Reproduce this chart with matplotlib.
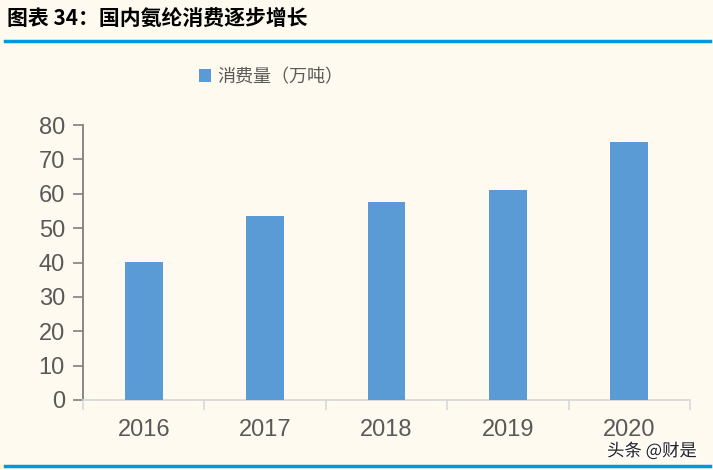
import matplotlib.pyplot as plt
import matplotlib.patheffects as pe
import numpy as np

plt.rcParams['font.family'] = ['Liberation Sans', 'Noto Sans CJK SC', 'DejaVu Sans']

years = ["2016", "2017", "2018", "2019", "2020"]
consumption = [40.2, 53.5, 57.6, 61.1, 75.0]
series_name = "消费量（万吨）"
title = "图表 34：国内氨纶消费逐步增长"
yticks = [0, 10, 20, 30, 40, 50, 60, 70, 80]

bg = "#FEFAF0"
bar_color = "#5B9BD5"
text_grey = "#595959"

fig = plt.figure(figsize=(7.13, 4.70), dpi=100, facecolor=bg)
ax = fig.add_axes([83 / 713, 70 / 470, 607 / 713, 275 / 470])
ax.set_facecolor(bg)

x = np.arange(len(years))
ax.bar(x, consumption, width=0.31, color=bar_color, label=series_name, zorder=3)

ax.set_xlim(-0.5, len(years) - 0.5)
ax.set_ylim(0, 80)
ax.set_yticks(yticks)
ax.set_yticklabels([str(v) for v in yticks], fontsize=17, color=text_grey)

# category labels in the middle, tick marks on the boundaries
ax.set_xticks(x)
ax.set_xticklabels(years, fontsize=17, color=text_grey)
ax.tick_params(axis='x', length=0, pad=14)
ax.set_xticks(np.arange(-0.5, len(years)), minor=True)
ax.tick_params(axis='x', which='minor', length=7, width=1.2, color="#D9D9D9")
ax.tick_params(axis='y', length=7, width=1.2, color="#808080", pad=6)

for s in ["top", "right"]:
    ax.spines[s].set_visible(False)
ax.spines["left"].set_color("#808080")
ax.spines["left"].set_linewidth(1.3)
ax.spines["bottom"].set_color("#D9D9D9")
ax.spines["bottom"].set_linewidth(1.3)

leg = ax.legend(loc="center", bbox_to_anchor=(271 / 713, 1 - 77 / 470), bbox_transform=fig.transFigure,
                frameon=False, handlelength=0.65, handleheight=0.7, handletextpad=0.35,
                prop={'family': ['Noto Sans CJK SC'], 'size': 13})
for t in leg.get_texts():
    t.set_color(text_grey)

fig.text(7 / 713, 1 - 18 / 470, title, fontsize=15, fontweight='bold', fontstyle='italic',
         va='center', ha='left', family=['Noto Sans CJK SC', 'DejaVu Sans'])

fig.add_artist(plt.Line2D([5 / 713, 710 / 713], [1 - 41 / 470, 1 - 41 / 470], color="#0099DD", lw=2.5))
fig.add_artist(plt.Line2D([5 / 713, 710 / 713], [1 - 466 / 470, 1 - 466 / 470], color="#0099DD", lw=2.5))

# watermark
fig.text(652 / 713, 1 - 451 / 470, "头条 @财是", fontsize=12.5, color="#222222", ha='center', va='center',
         family=['Noto Sans CJK SC', 'DejaVu Sans'],
         path_effects=[pe.withStroke(linewidth=2, foreground="white")])

fig.savefig("out.png", dpi=100, facecolor=bg)
